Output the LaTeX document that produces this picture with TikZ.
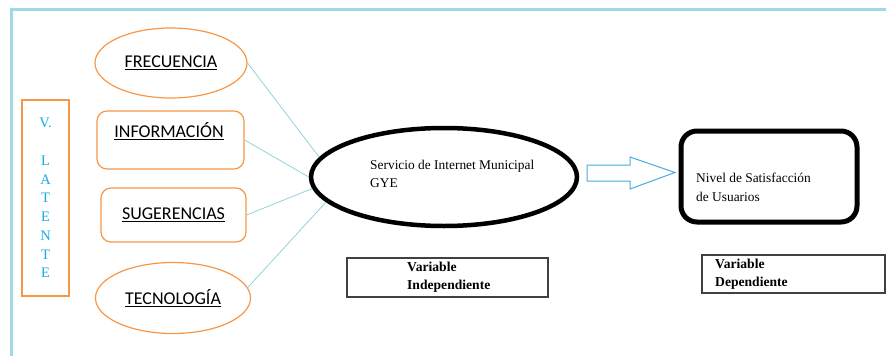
\documentclass[tikz,border=0pt]{standalone}
\usepackage{fontspec}
\setmainfont{Liberation Serif}
\newfontfamily\calibri{Carlito}
\usepackage{tikz}
\usetikzlibrary{shapes,arrows,positioning,calc}

\definecolor{naranja}{RGB}{247,150,70}
\definecolor{celeste}{RGB}{150,208,224}
\definecolor{azulflecha}{RGB}{70,172,220}
\definecolor{azultexto}{RGB}{20,170,235}
\definecolor{marco}{RGB}{160,216,232}

\begin{document}
\begin{tikzpicture}[x=1pt,y=-1pt,
    dimension/.style={ellipse, draw=naranja, line width=1.2pt, inner sep=0pt},
    cajaor/.style={rectangle, rounded corners=10pt, draw=naranja, line width=1.2pt, inner sep=0pt},
    rotulo/.style={font=\calibri\fontsize{18}{20}\selectfont},
    enlace/.style={draw=celeste, line width=0.8pt},
    texto/.style={anchor=west, align=left, inner sep=0pt, font=\fontsize{13.4}{18.5}\selectfont},
    etiqueta/.style={rectangle, draw=black!75, line width=1.3pt, inner sep=0pt},
    negrita/.style={anchor=west, align=left, inner sep=0pt, font=\bfseries\fontsize{13.6}{18.5}\selectfont}]
    \useasboundingbox (0,0) rectangle (886,356);

    % Marco
    \draw[marco, line width=3pt] (11,358) -- (11,9) -- (888,9);

    % V. Latente
    \node[rectangle, draw=naranja, line width=1.2pt, minimum width=47, minimum height=196,
          align=center, text=azultexto, font=\fontsize{14.5}{18.75}\selectfont] (latente) at (45.5,198)
          {V.\\[18.75pt]L\\A\\T\\E\\N\\T\\E};

    % Dimensiones
    \node[dimension, minimum width=152, minimum height=70, rotulo] (frec) at (171,63) {\underline{FRECUENCIA}};
    \node[cajaor, minimum width=147, minimum height=58] (info) at (170.5,140) {};
    \node[rotulo] (infotxt) at (169,131) {\underline{INFORMACIÓN}};
    \node[cajaor, minimum width=145, minimum height=54, rotulo] (suge) at (173.5,215) {\underline{SUGERENCIAS}};
    \node[dimension, minimum width=155, minimum height=71, rotulo] (tecno) at (173,298) {\underline{TECNOLOGÍA}};

    % Variable independiente
    \node[ellipse, draw=black, line width=4.5pt, minimum width=266, minimum height=98, inner sep=0pt] (serv) at (444,177) {};
    \node[texto] (servtxt) at (370,174) {Servicio de Internet Municipal\\GYE};

    \draw[enlace] (frec.east) -- (serv.171);
    \draw[enlace] (info.east) -- (serv.180);
    \draw[enlace] (suge.east) -- (serv.185);
    \draw[enlace] (tecno.8) -- (serv.192);

    % Flecha
    \coordinate (flecha) at (587,172.5);
    \draw[azulflecha, line width=1pt] (flecha) ++(0,-7.5) -- ++(43,0) -- ++(0,-8) -- ++(45,15.5)
        -- ++(-45,16.5) -- ++(0,-8) -- ++(-43,0) -- cycle;

    % Variable dependiente
    \node[rectangle, rounded corners=16pt, draw=black, line width=5pt, minimum width=176, minimum height=91, inner sep=0pt] (nivel) at (769,176.5) {};
    \node[texto] (niveltxt) at (696,187.5) {Nivel de Satisfacción\\de Usuarios};

    % Etiquetas
    \node[etiqueta, minimum width=201, minimum height=39] (etiqind) at (447.5,277.5) {};
    \node[negrita] (indtxt) at (407,277) {Variable\\Independiente};
    \node[etiqueta, minimum width=183, minimum height=38] (etiqdep) at (793.5,274) {};
    \node[negrita] (deptxt) at (715,274) {Variable\\Dependiente};
\end{tikzpicture}
\end{document}
